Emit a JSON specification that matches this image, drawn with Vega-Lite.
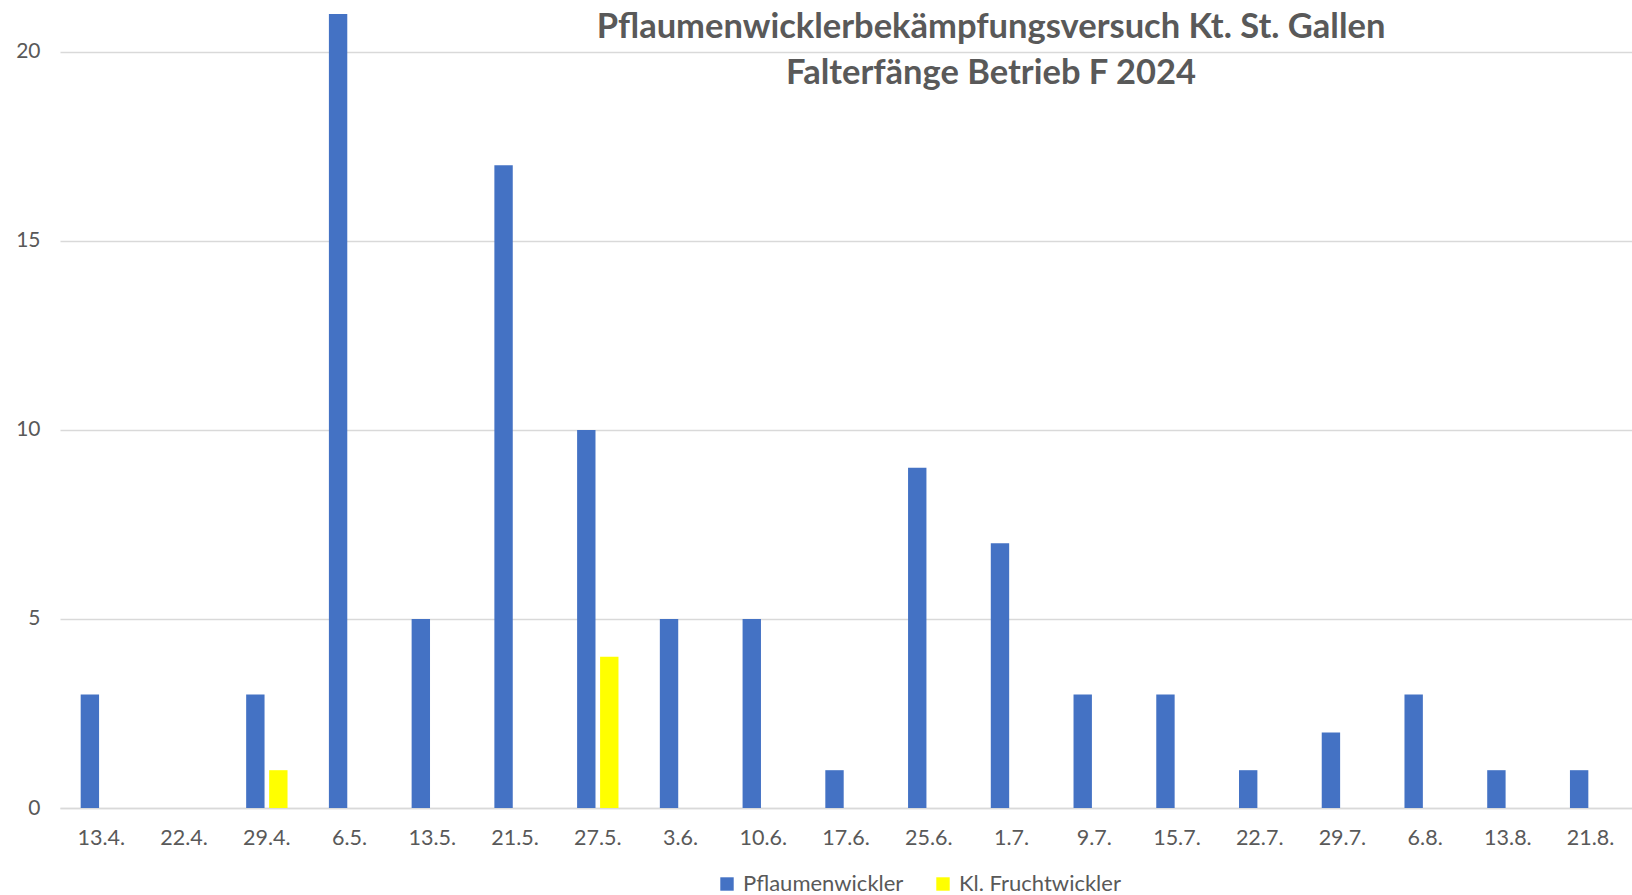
{
  "$schema": "https://vega.github.io/schema/vega-lite/v6.json",
  "width": 1572,
  "height": 794,
  "autosize": {"type": "none"},
  "padding": {"left": 60, "top": 14, "right": 0, "bottom": 87},
  "background": "white",
  "title": {
    "text": ["Pflaumenwicklerbekämpfungsversuch Kt. St. Gallen", "Falterfänge Betrieb F 2024"],
    "font": "Lato",
    "fontSize": 34.5,
    "fontWeight": "bold",
    "color": "#595959",
    "lineHeight": 46,
    "anchor": "middle",
    "baseline": "top",
    "dx": 145,
    "dy": 67,
    "offset": -10
  },
  "data": {
    "values": [
      {"date": "13.4.", "series": "Pflaumenwickler", "value": 3},
      {"date": "13.4.", "series": "Kl. Fruchtwickler", "value": 0},
      {"date": "22.4.", "series": "Pflaumenwickler", "value": 0},
      {"date": "22.4.", "series": "Kl. Fruchtwickler", "value": 0},
      {"date": "29.4.", "series": "Pflaumenwickler", "value": 3},
      {"date": "29.4.", "series": "Kl. Fruchtwickler", "value": 1},
      {"date": "6.5.", "series": "Pflaumenwickler", "value": 21},
      {"date": "6.5.", "series": "Kl. Fruchtwickler", "value": 0},
      {"date": "13.5.", "series": "Pflaumenwickler", "value": 5},
      {"date": "13.5.", "series": "Kl. Fruchtwickler", "value": 0},
      {"date": "21.5.", "series": "Pflaumenwickler", "value": 17},
      {"date": "21.5.", "series": "Kl. Fruchtwickler", "value": 0},
      {"date": "27.5.", "series": "Pflaumenwickler", "value": 10},
      {"date": "27.5.", "series": "Kl. Fruchtwickler", "value": 4},
      {"date": "3.6.", "series": "Pflaumenwickler", "value": 5},
      {"date": "3.6.", "series": "Kl. Fruchtwickler", "value": 0},
      {"date": "10.6.", "series": "Pflaumenwickler", "value": 5},
      {"date": "10.6.", "series": "Kl. Fruchtwickler", "value": 0},
      {"date": "17.6.", "series": "Pflaumenwickler", "value": 1},
      {"date": "17.6.", "series": "Kl. Fruchtwickler", "value": 0},
      {"date": "25.6.", "series": "Pflaumenwickler", "value": 9},
      {"date": "25.6.", "series": "Kl. Fruchtwickler", "value": 0},
      {"date": "1.7.", "series": "Pflaumenwickler", "value": 7},
      {"date": "1.7.", "series": "Kl. Fruchtwickler", "value": 0},
      {"date": "9.7.", "series": "Pflaumenwickler", "value": 3},
      {"date": "9.7.", "series": "Kl. Fruchtwickler", "value": 0},
      {"date": "15.7.", "series": "Pflaumenwickler", "value": 3},
      {"date": "15.7.", "series": "Kl. Fruchtwickler", "value": 0},
      {"date": "22.7.", "series": "Pflaumenwickler", "value": 1},
      {"date": "22.7.", "series": "Kl. Fruchtwickler", "value": 0},
      {"date": "29.7.", "series": "Pflaumenwickler", "value": 2},
      {"date": "29.7.", "series": "Kl. Fruchtwickler", "value": 0},
      {"date": "6.8.", "series": "Pflaumenwickler", "value": 3},
      {"date": "6.8.", "series": "Kl. Fruchtwickler", "value": 0},
      {"date": "13.8.", "series": "Pflaumenwickler", "value": 1},
      {"date": "13.8.", "series": "Kl. Fruchtwickler", "value": 0},
      {"date": "21.8.", "series": "Pflaumenwickler", "value": 1},
      {"date": "21.8.", "series": "Kl. Fruchtwickler", "value": 0}
    ]
  },
  "mark": {"type": "bar"},
  "encoding": {
    "x": {
      "field": "date",
      "type": "nominal",
      "sort": null,
      "scale": {"paddingInner": 0.5, "paddingOuter": 0.25},
      "axis": {
        "title": null,
        "labelAngle": 0,
        "labelFont": "Lato",
        "labelFontSize": 21.5,
        "labelColor": "#595959",
        "labelPadding": 19,
        "ticks": false,
        "domainColor": "#D9D9D9",
        "domainWidth": 1.5
      }
    },
    "xOffset": {
      "field": "series",
      "type": "nominal",
      "scale": {"domain": ["Pflaumenwickler", "Kl. Fruchtwickler"], "paddingInner": 0.2, "paddingOuter": 0}
    },
    "y": {
      "field": "value",
      "type": "quantitative",
      "scale": {"domain": [0, 21], "nice": false},
      "axis": {
        "title": null,
        "values": [0, 5, 10, 15, 20],
        "labelFont": "Lato",
        "labelFontSize": 21,
        "labelColor": "#595959",
        "labelPadding": 20,
        "ticks": false,
        "domain": false,
        "gridColor": "#D9D9D9",
        "gridWidth": 1.5
      }
    },
    "color": {
      "field": "series",
      "type": "nominal",
      "scale": {"domain": ["Pflaumenwickler", "Kl. Fruchtwickler"], "range": ["#4472C4", "#FFFF00"]},
      "legend": {
        "title": null,
        "orient": "none",
        "direction": "horizontal",
        "legendX": 656,
        "legendY": 859,
        "symbolType": "square",
        "symbolSize": 180,
        "symbolStrokeWidth": 0,
        "labelFont": "Lato",
        "labelFontSize": 22,
        "labelLimit": 0,
        "labelColor": "#595959",
        "columnPadding": 28,
        "labelOffset": 5
      }
    }
  },
  "config": {
    "view": {"stroke": null},
    "axis": {"labelFont": "Lato"}
  }
}
